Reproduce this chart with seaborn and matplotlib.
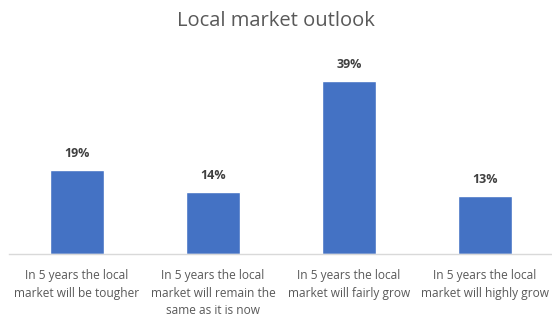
import matplotlib
matplotlib.use('Agg')
import matplotlib.pyplot as plt
import seaborn as sns
import pandas as pd

categories = ['In 5 years the local\nmarket will be tougher',
              'In 5 years the local\nmarket will remain the\nsame as it is now',
              'In 5 years the local\nmarket will fairly grow',
              'In 5 years the local\nmarket will highly grow']
values = [19, 14, 39, 13]

df = pd.DataFrame({'category': categories, 'value': values})

sns.set_style('white')
plt.rcParams['font.family'] = ['Open Sans', 'DejaVu Sans']

fig = plt.figure(figsize=(5.52, 3.16), dpi=100)
ax = fig.add_axes([9 / 552, 62 / 316, 544 / 552, 200 / 316])

sns.barplot(data=df, x='category', y='value', color='#4472C4', saturation=1,
            width=0.4, ax=ax)

ax.set_xlim(-0.5, 3.5)
ax.set_ylim(0, 45)
ax.set_xlabel('')
ax.set_ylabel('')
ax.set_yticks([])
for side in ['top', 'right', 'left']:
    ax.spines[side].set_visible(False)
ax.spines['bottom'].set_color('#D9D9D9')
ax.spines['bottom'].set_linewidth(1)
ax.tick_params(axis='x', length=0, pad=11, labelsize=8.6, labelcolor='#595959')
for lbl in ax.get_xticklabels():
    lbl.set_linespacing(1.45)

for i, v in enumerate(values):
    ax.text(i, v + 2.2, f'{v}%', ha='center', va='bottom', fontsize=9,
            fontweight='bold', color='#404040')

fig.text(0.5, 1 - 21 / 316, 'Local market outlook', ha='center', va='center',
         fontsize=14.5, color='#595959')

fig.savefig('out.png', dpi=100)
